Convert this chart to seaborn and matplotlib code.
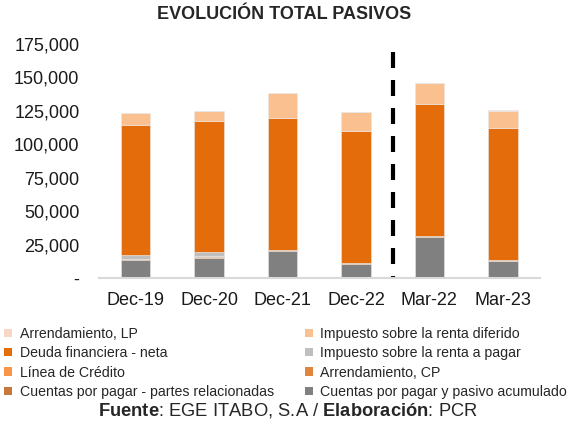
import pandas as pd
import matplotlib.pyplot as plt
import numpy as np
import seaborn as sns

sns.set_style("white")
plt.rcParams['font.family'] = ['Liberation Sans', 'DejaVu Sans']
plt.rcParams['mathtext.fontset'] = 'custom'
plt.rcParams['mathtext.rm'] = 'Liberation Sans'
plt.rcParams['mathtext.bf'] = 'Liberation Sans:bold'

# datos
periodos = ['Dec-19', 'Dec-20', 'Dec-21', 'Dec-22', 'Mar-22', 'Mar-23']
ctas_pagar = [13500, 15500, 20400, 11100, 31100, 13000]
ctas_relacionadas = [600, 600, 500, 300, 200, 300]
arrend_cp = [600, 600, 500, 200, 100, 200]
linea_credito = [0, 0, 0, 0, 0, 0]
imp_pagar = [2700, 3200, 0, 0, 0, 0]
deuda = [96900, 97700, 98700, 98700, 98800, 99000]
imp_diferido = [9000, 7200, 18300, 14000, 15600, 12800]
arrend_lp = [300, 300, 200, 200, 200, 200]

series = [
    ('Cuentas por pagar y pasivo acumulado', ctas_pagar, '#808080'),
    ('Cuentas por pagar - partes relacionadas', ctas_relacionadas, '#C8783A'),
    ('Arrendamiento, CP', arrend_cp, '#E0843E'),
    ('Línea de Crédito', linea_credito, '#F79646'),
    ('Impuesto sobre la renta a pagar', imp_pagar, '#BFBFBF'),
    ('Deuda financiera - neta', deuda, '#E46C0A'),
    ('Impuesto sobre la renta diferido', imp_diferido, '#FAC090'),
    ('Arrendamiento, LP', arrend_lp, '#F9D5C7'),
]

fig, ax = plt.subplots(figsize=(5.68, 4.25), dpi=100)
fig.subplots_adjust(left=0.174, right=0.95, top=0.8965, bottom=0.345)

bottom = np.zeros(len(periodos))
handles = {}
for name, vals, color in series:
    vals = np.array(vals, dtype=float)
    bars = ax.bar(periodos, vals, bottom=bottom, width=0.4, color=color,
                  edgecolor='#E8E8E8', linewidth=0.4, label=name)
    handles[name] = bars
    bottom += vals

# línea divisoria entre anuales y trimestrales
ax.plot([3.5, 3.5], [169000, 0], color='black', linewidth=3,
        dashes=(3.84, 2.88), solid_capstyle='butt', dash_capstyle='butt')

ax.set_xlim(-0.5, 5.5)
ax.set_ylim(0, 175000)
ax.set_yticks(np.arange(0, 175001, 25000))
ax.set_yticklabels(['-'] + [f'{v:,}' for v in range(25000, 175001, 25000)])
ax.tick_params(axis='both', labelsize=13, length=0, colors='#1a1a1a')
ax.tick_params(axis='y', pad=14)
ax.tick_params(axis='x', pad=10)
for s in ['left', 'right', 'top']:
    ax.spines[s].set_visible(False)
ax.spines['bottom'].set_color('#D9D9D9')
ax.spines['bottom'].set_linewidth(1.5)

fig.text(0.5, 0.965, 'EVOLUCIÓN TOTAL PASIVOS', ha='center', va='center',
         fontsize=13, fontweight='bold')

# leyenda en dos columnas
orden = ['Arrendamiento, LP', 'Deuda financiera - neta', 'Línea de Crédito',
         'Cuentas por pagar - partes relacionadas',
         'Impuesto sobre la renta diferido', 'Impuesto sobre la renta a pagar',
         'Arrendamiento, CP', 'Cuentas por pagar y pasivo acumulado']
leg = fig.legend([handles[n] for n in orden], orden, ncol=2, loc='upper left',
                 bbox_to_anchor=(0.007, 0.231), frameon=False, fontsize=10.2,
                 handlelength=0.55, handleheight=0.55, handletextpad=0.55,
                 labelspacing=0.38, columnspacing=2.2, borderaxespad=0,
                 borderpad=0)
for h in leg.legend_handles:
    h.set_edgecolor('none')

fig.text(0.507, 0.035, r'$\bf{Fuente}$: EGE ITABO, S.A / $\bf{Elaboración}$: PCR',
         ha='center', va='center', fontsize=13.2)

plt.savefig('out.png', dpi=100)
